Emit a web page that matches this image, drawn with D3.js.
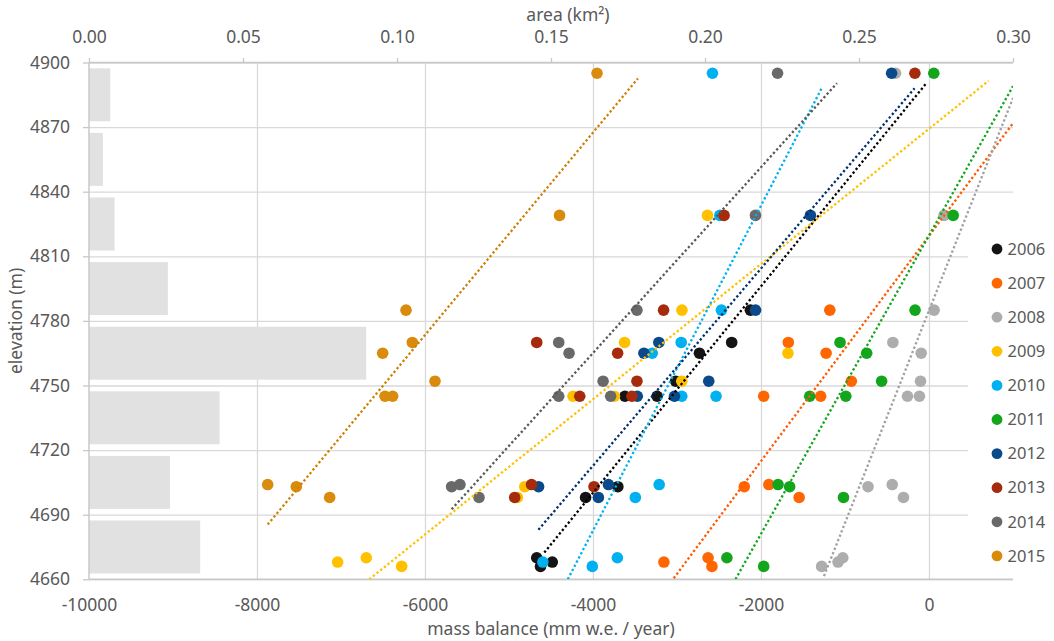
<!DOCTYPE html>
<html>
<head>
<meta charset="utf-8">
<script src="https://cdn.jsdelivr.net/npm/d3@7"></script>
<style>
  body { margin: 0; background: #fff; }
  svg { font-family: 'Noto Sans', 'Open Sans', sans-serif; }
  .tick text { fill: #595959; }
</style>
</head>
<body>
<div id="chart"></div>
<script>
// years and their colours
const years = ['2006', '2007', '2008', '2009', '2010', '2011', '2012', '2013', '2014', '2015'];
const colors = ['#141414', '#ff6600', '#adadad', '#ffc000', '#00b0f0', '#13a51c', '#0b4a8a', '#a62b0c', '#696969', '#d98c0b'];

// area per elevation band (top of band, km2)
const bandTops = [4900, 4870, 4840, 4810, 4780, 4750, 4720, 4690];
const bandArea = [0.0069, 0.0045, 0.0083, 0.0256, 0.0900, 0.0424, 0.0263, 0.0361];

const elevTicks = [4660, 4690, 4720, 4750, 4780, 4810, 4840, 4870, 4900];
const balanceTicks = [-10000, -8000, -6000, -4000, -2000, 0];
const areaTicks = [0, 0.05, 0.10, 0.15, 0.20, 0.25, 0.30];

// [elevation (m), mass balance (mm w.e./year)]
const mb2006 = [[4785, -2126], [4770, -2349], [4765, -2733], [4752, -3016], [4745, -3620], [4745, -3237],
  [4703, -3704], [4698, -4088], [4670, -4670], [4668, -4485], [4666, -4625]];
const mb2007 = [[4785, -1181], [4770, -1675], [4765, -1225], [4752, -925], [4745, -1968], [4745, -1290],
  [4704, -1907], [4703, -2199], [4698, -1546], [4670, -2630], [4668, -3156], [4666, -2584]];
const mb2008 = [[4895, -398], [4829, 179], [4785, 61], [4770, -430], [4765, -93], [4752, -101], [4745, -256],
  [4745, -114], [4704, -438], [4703, -726], [4698, -304], [4670, -1026], [4668, -1083], [4666, -1278]];
const mb2009 = [[4829, -2637], [4785, -2941], [4770, -3624], [4765, -1679], [4752, -2943], [4745, -4238],
  [4745, -3745], [4703, -4812], [4698, -4900], [4670, -6699], [4668, -7040], [4666, -6278]];
const mb2010 = [[4895, -2578], [4829, -2490], [4785, -2471], [4770, -2950], [4765, -3295], [4745, -2943],
  [4745, -2535], [4704, -3212], [4698, -3496], [4670, -3710], [4668, -4597], [4666, -4008]];
const mb2011 = [[4895, 57], [4829, 288], [4785, -166], [4770, -1059], [4765, -742], [4752, -564], [4745, -1420],
  [4745, -990], [4704, -1797], [4703, -1659], [4698, -1018], [4670, -2406], [4666, -1968]];
const mb2012 = [[4895, -445], [4829, -1412], [4785, -2065], [4770, -3216], [4765, -3394], [4752, -2622],
  [4745, -3473], [4745, -3030], [4704, -3816], [4703, -4648], [4698, -3936]];
const mb2013 = [[4895, -168], [4829, -2440], [4785, -3160], [4770, -4670], [4765, -3707], [4752, -3477],
  [4745, -4158], [4745, -3537], [4704, -4732], [4703, -3988], [4698, -4932]];
const mb2014 = [[4895, -1803], [4829, -2066], [4785, -3477], [4770, -4408], [4765, -4285], [4752, -3880],
  [4745, -4408], [4745, -3790], [4704, -5584], [4703, -5683], [4698, -5357]];
const mb2015 = [[4895, -3952], [4829, -4398], [4785, -6226], [4770, -6151], [4765, -6504], [4752, -5881],
  [4745, -6476], [4745, -6385], [4704, -7873], [4703, -7532], [4698, -7135]];
const massBalance = [mb2006, mb2007, mb2008, mb2009, mb2010, mb2011, mb2012, mb2013, mb2014, mb2015];

// linear trend lines: [balance1, elev1, balance2, elev2] (none for 2013)
const trends = [
  [-4580, 4672.4, -40, 4890], [-3039, 4660.5, 1000, 4871.8], [-1250, 4661.5, 1000, 4883.5],
  [-6663, 4660, 710, 4891.5], [-4300, 4660, -1270, 4888.6], [-2304, 4660, 1000, 4889],
  [-4650, 4683, -172, 4888], null, [-5683, 4692.5, -1095, 4890.4], [-7873, 4685.4, -3465, 4892.6]
];
const trendColors = ['#000000', '#ff5a00', '#a0a0a0', '#ffc000', '#00b0f0', '#13a51c', '#002f6c', '#a62b0c', '#595959', '#d07f00'];

const width = 1054, height = 641;
const margin = { top: 62.5, right: 41, bottom: 61.7, left: 89 };
const w = width - margin.left - margin.right;
const h = height - margin.top - margin.bottom;

const svg = d3.select('#chart').append('svg')
  .attr('width', width).attr('height', height);
const g = svg.append('g').attr('transform', `translate(${margin.left},${margin.top})`);

const x = d3.scaleLinear().domain([-10000, 1000]).range([0, w]);
const xArea = d3.scaleLinear().domain([0, 0.30]).range([0, w]);
const y = d3.scaleLinear().domain([4660, 4900]).range([h, 0]);
const band = d3.scaleBand().domain(bandTops).range([0, h]).paddingInner(0.18).paddingOuter(0.09);

g.append('defs').append('clipPath').attr('id', 'plot')
  .append('rect').attr('width', w).attr('height', h);

// gridlines
g.append('g').attr('class', 'grid')
  .call(d3.axisLeft(y).tickValues(elevTicks).tickSize(-w).tickFormat(''));
g.append('g').attr('class', 'grid')
  .attr('transform', `translate(0,${h})`)
  .call(d3.axisBottom(x).tickValues([-8000, -6000, -4000, -2000, 0]).tickSize(-h).tickFormat(''));
g.selectAll('.grid .domain').remove();
g.selectAll('.grid line').attr('stroke', '#d9d9d9').attr('stroke-width', 1.3);

// area bars
g.selectAll('.bar')
  .data(bandTops)
  .enter().append('rect')
  .attr('class', 'bar')
  .attr('x', 0)
  .attr('y', d => band(d))
  .attr('width', (d, i) => xArea(bandArea[i]))
  .attr('height', band.bandwidth())
  .attr('fill', '#e1e1e1');

// axes (plain numbers, ascii minus)
const yAxis = g.append('g')
  .call(d3.axisLeft(y).tickValues(elevTicks).tickSize(6).tickPadding(13).tickFormat(d => String(d)));
const xAxis = g.append('g').attr('transform', `translate(0,${h})`)
  .call(d3.axisBottom(x).tickValues(balanceTicks).tickSize(0).tickPadding(19.5).tickFormat(d => String(d)));
const topAxis = g.append('g')
  .call(d3.axisTop(xArea).tickValues(areaTicks).tickSize(4.5).tickPadding(15).tickFormat(d => d.toFixed(2)));
[yAxis, xAxis, topAxis].forEach(a => {
  a.selectAll('.domain').attr('stroke', '#c8c8c8').attr('stroke-width', 1.5);
  a.selectAll('.tick line').attr('stroke', '#c8c8c8').attr('stroke-width', 1.3);
  a.selectAll('.tick text').attr('font-size', 17.5).attr('font-family', "'Noto Sans', sans-serif");
});
xAxis.selectAll('.domain').attr('d', `M0,0H${w}`);
yAxis.selectAll('.domain').attr('d', `M0,0V${h}`);
topAxis.selectAll('.domain').attr('d', `M0,0H${w}`);

// points, one layer per year
massBalance.forEach((pts, i) => {
  g.append('g').selectAll('circle')
    .data(pts)
    .enter().append('circle')
    .attr('cx', d => x(d[1]))
    .attr('cy', d => y(d[0]))
    .attr('r', 5.8)
    .attr('fill', colors[i]);
});

// dotted trend lines on top
const lineLayer = g.append('g').attr('clip-path', 'url(#plot)');
trends.forEach((t, i) => {
  if (!t) return;
  lineLayer.append('line')
    .attr('x1', x(t[0])).attr('y1', y(t[1]))
    .attr('x2', x(t[2])).attr('y2', y(t[3]))
    .attr('stroke', trendColors[i])
    .attr('stroke-width', 2.3)
    .attr('stroke-dasharray', '2.3,2.4');
});

// legend
const legend = svg.append('g');
legend.append('rect')
  .attr('x', 968).attr('y', 232).attr('width', 86).attr('height', 340)
  .attr('fill', '#fff');
const item = legend.selectAll('.item')
  .data(years)
  .enter().append('g')
  .attr('transform', (d, i) => `translate(997,${249 + i * 34.1})`);
item.append('circle').attr('r', 5.4).attr('fill', (d, i) => colors[i]);
item.append('text')
  .attr('x', 10.5).attr('dy', '0.35em')
  .attr('font-size', 16.5).attr('fill', '#595959')
  .text(d => d);

// axis titles
svg.append('text')
  .attr('x', margin.left + w / 2).attr('y', 635)
  .attr('text-anchor', 'middle').attr('font-size', 17.5).attr('fill', '#595959')
  .text('mass balance (mm w.e. / year)');
svg.append('text')
  .attr('x', 568).attr('y', 20.5)
  .attr('text-anchor', 'middle').attr('font-size', 17.5).attr('fill', '#595959')
  .text('area (km²)');
svg.append('text')
  .attr('transform', `translate(22,${margin.top + h / 2}) rotate(-90)`)
  .attr('text-anchor', 'middle').attr('font-size', 17.5).attr('fill', '#595959')
  .text('elevation (m)');
</script>
</body>
</html>
